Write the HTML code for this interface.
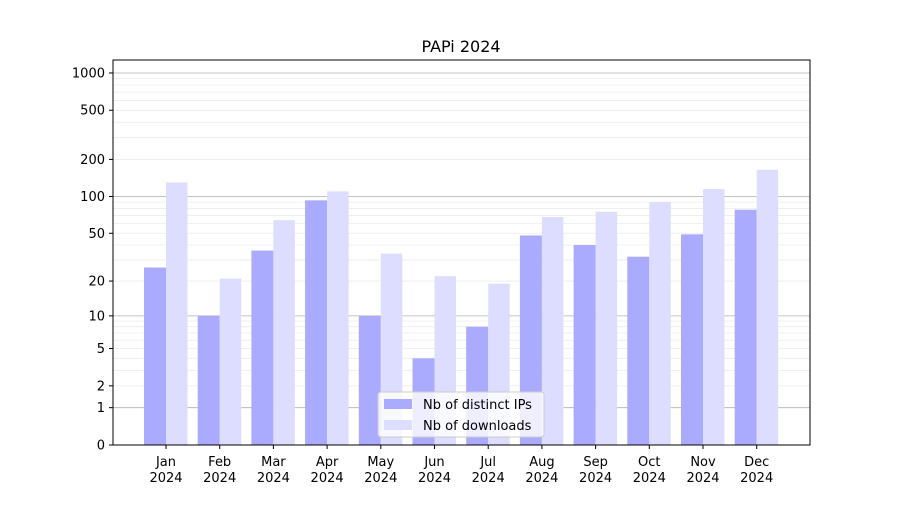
<!DOCTYPE html>
<html><head><meta charset="utf-8"><style>
body{margin:0;background:#fff;font-family:"Liberation Sans","DejaVu Sans",sans-serif}
</style></head><body>
<svg id="c" width="900" height="500" xmlns="http://www.w3.org/2000/svg" font-family="DejaVu Sans, Liberation Sans, sans-serif">
<rect width="900" height="500" fill="#fff"/>
<text x="461" y="52" font-size="16" text-anchor="middle">PAPi 2024</text>
<g id="grid"></g><g id="bars"></g><g id="axes"></g>
</svg>
<script>
const months=["Jan","Feb","Mar","Apr","May","Jun","Jul","Aug","Sep","Oct","Nov","Dec"];
const distinctIPs=[26,10,36,93,10,4,8,48,40,32,49,78];
const downloads=[130,21,64,110,34,22,19,68,75,90,115,165];
const yTicks=[0,1,2,5,10,20,50,100,200,500,1000];
const majorGrid=[1,10,100,1000];
const L=113,R=810,T=60,B=445;
const ymaxT=3.105;
const NS="http://www.w3.org/2000/svg";
function y(v){return B-(Math.log10(v+1)/ymaxT)*(B-T);}
const step=(R-L)/13.0;
function xc(i){return 166+i*53.7;}
function mk(t,a,p){const e=document.createElementNS(NS,t);for(const k in a)e.setAttribute(k,a[k]);(p||document.getElementById('c')).appendChild(e);return e;}
const g=document.getElementById('grid'),b=document.getElementById('bars'),ax=document.getElementById('axes');
// minor grid
for(let d=1;d<=1000;d*=10){for(let m=1;m<10;m++){const v=d*m;if(v>1273)break;
 const isMaj=m===1;
 const ln=mk('line',{x1:L,x2:R,y1:y(v),y2:y(v),stroke:isMaj?'#b0b0b0':'#ebebeb','stroke-width':isMaj?0.8:0.8},g);
 }}
months.forEach((m,i)=>{
 const r1=mk('rect',{x:xc(i)-22,y:y(distinctIPs[i]),width:22,height:B-y(distinctIPs[i]),fill:'#aaaaff'},b);
 
 const r2=mk('rect',{x:xc(i),y:y(downloads[i]),width:21.5,height:B-y(downloads[i]),fill:'#ddddff'},b);
 
 mk('line',{x1:xc(i),x2:xc(i),y1:B,y2:B+4,stroke:'#000'},ax);
 const t=mk('text',{x:xc(i),y:B+21,'font-size':13,'text-anchor':'middle'},ax);t.textContent=m;
 
 const t2=mk('text',{x:xc(i),y:B+37,'font-size':13,'text-anchor':'middle'},ax);t2.textContent='2024';
 
});
yTicks.forEach(v=>{
 mk('line',{x1:L-4,x2:L,y1:y(v),y2:y(v),stroke:'#000'},ax);
 const t=mk('text',{x:L-8,y:y(v)+4.5,'font-size':13,'text-anchor':'end'},ax);t.textContent=v;
 
});
const fr=mk('rect',{x:L,y:T,width:R-L,height:B-T,fill:'none',stroke:'#000','stroke-width':1},ax);

const lg=mk('g',{},ax);
mk('rect',{x:378,y:392,width:166,height:45,rx:3,fill:'#fff','fill-opacity':0.8,stroke:'#ccc'},lg);
mk('rect',{x:384,y:399,width:28,height:10,fill:'#aaaaff'},lg);
mk('rect',{x:384,y:420,width:28,height:10,fill:'#ddddff'},lg);
const a=mk('text',{x:423,y:409,'font-size':13},lg);a.textContent='Nb of distinct IPs';

const c=mk('text',{x:423,y:430,'font-size':13},lg);c.textContent='Nb of downloads';

</script>
</body></html>
